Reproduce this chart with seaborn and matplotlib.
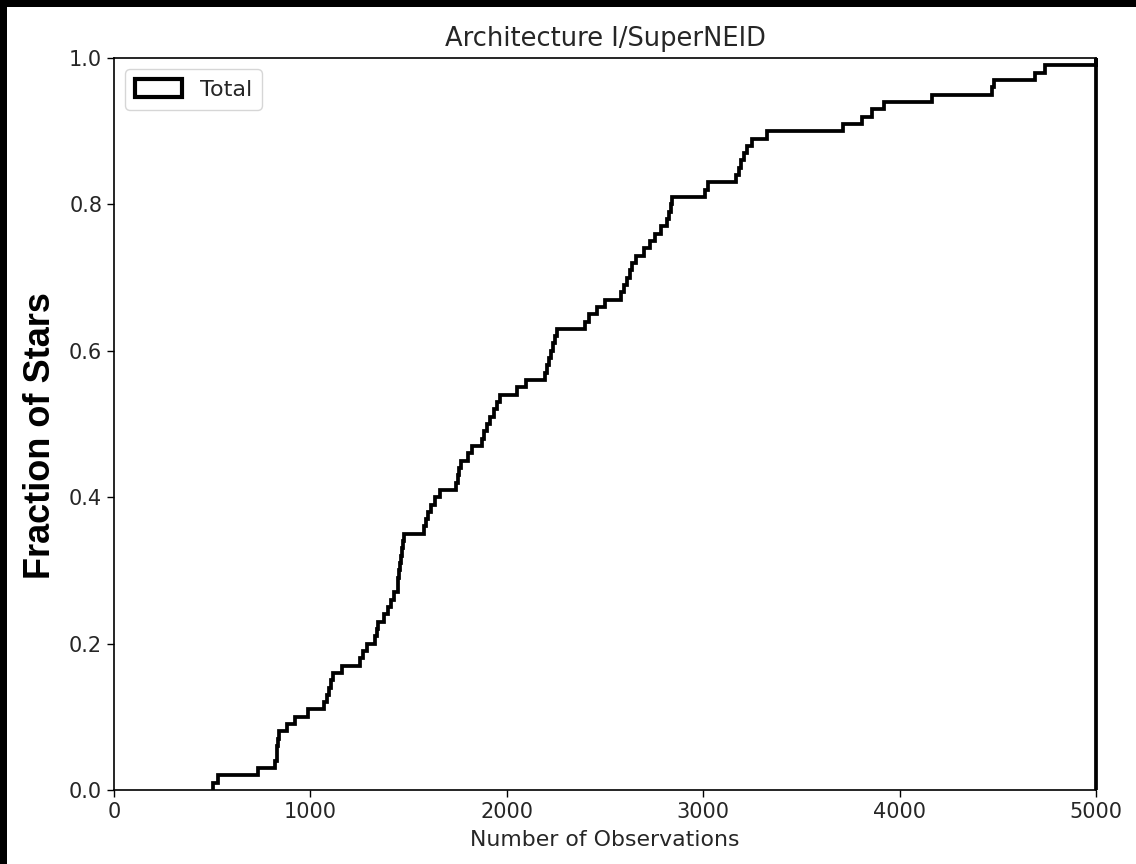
import numpy as np
import pandas as pd
import seaborn as sns
import matplotlib
matplotlib.use("Agg")
import matplotlib.pyplot as plt
from matplotlib.patches import Patch, Rectangle

# Number of observations per star (sorted)
observations = [
    504, 530, 735, 822, 828, 832, 836, 840, 880, 920,
    990, 1070, 1085, 1095, 1105, 1115, 1160, 1250, 1270, 1290,
    1330, 1340, 1345, 1375, 1395, 1410, 1425, 1445, 1448, 1452,
    1456, 1460, 1465, 1470, 1478, 1580, 1590, 1600, 1615, 1635,
    1660, 1740, 1750, 1758, 1765, 1800, 1825, 1875, 1885, 1900,
    1915, 1935, 1950, 1965, 2050, 2100, 2195, 2205, 2215, 2225,
    2235, 2245, 2255, 2400, 2420, 2460, 2500, 2580, 2595, 2610,
    2625, 2640, 2660, 2700, 2730, 2755, 2785, 2815, 2825, 2835,
    2840, 3010, 3025, 3165, 3180, 3195, 3210, 3225, 3250, 3325,
    3710, 3810, 3860, 3920, 4165, 4470, 4480, 4690, 4740, 5000,
]
series_label = "Total"
title = "Architecture I/SuperNEID"
x_label = "Number of Observations"
y_label = "Fraction of Stars"
x_ticks = [0, 1000, 2000, 3000, 4000, 5000]
y_ticks = [0.0, 0.2, 0.4, 0.6, 0.8, 1.0]

df = pd.DataFrame({"obs": observations})

sns.set_style("ticks")
plt.rcParams["font.family"] = ["DejaVu Sans"]

fig = plt.figure(figsize=(11.36, 8.64), dpi=100)
ax = fig.add_axes([114 / 1136, 1 - 790 / 864, (1096 - 114) / 1136, (790 - 58) / 864])

sns.ecdfplot(data=df, x="obs", ax=ax, color="black", linewidth=2.7)

# turn the ECDF into a closed step-histogram outline (start at first value, drop at last)
line = ax.lines[0]
xd, yd = line.get_data()
xd = np.asarray(xd, dtype=float)
yd = np.asarray(yd, dtype=float)
xd[0] = xd[1]
xd = np.r_[xd, xd[-1]]
yd = np.r_[yd, 0.0]
line.set_data(xd, yd)
line.set_solid_joinstyle("miter")
line.set_solid_capstyle("butt")
line.set_clip_on(False)

ax.set_xlim(0, 5000)
ax.set_ylim(0, 1.0)
ax.set_xticks(x_ticks)
ax.set_yticks(y_ticks)
ax.set_xticklabels([str(t) for t in x_ticks])
ax.set_yticklabels([f"{t:.1f}" for t in y_ticks])
ax.tick_params(axis="both", labelsize=15, length=5, width=1, color="black",
               direction="out", labelcolor="#262626")
for s in ax.spines.values():
    s.set_color("black")
    s.set_linewidth(1.2)

ax.set_title(title, fontsize=18.5, pad=9, color="#262626")
ax.set_xlabel(x_label, fontsize=15.8, color="#262626", labelpad=6)
ax.set_ylabel(y_label, fontsize=26, fontweight="bold", color="black",
              family=["Liberation Sans", "DejaVu Sans"])
ax.yaxis.set_label_coords(-0.057, 0.484)

handle = Patch(facecolor="none", edgecolor="black", linewidth=3, label=series_label)
ax.legend(handles=[handle], loc="upper left", fontsize=16, frameon=True,
          handlelength=2.1, handleheight=0.85, borderpad=0.45)

# screenshot border (black band at top and left)
fig.patches.append(Rectangle((0, 1 - 7 / 864), 1, 7 / 864, transform=fig.transFigure,
                             facecolor="black", edgecolor="none", zorder=10))
fig.patches.append(Rectangle((0, 0), 7 / 1136, 1, transform=fig.transFigure,
                             facecolor="black", edgecolor="none", zorder=10))

fig.savefig("out.png", dpi=100)
